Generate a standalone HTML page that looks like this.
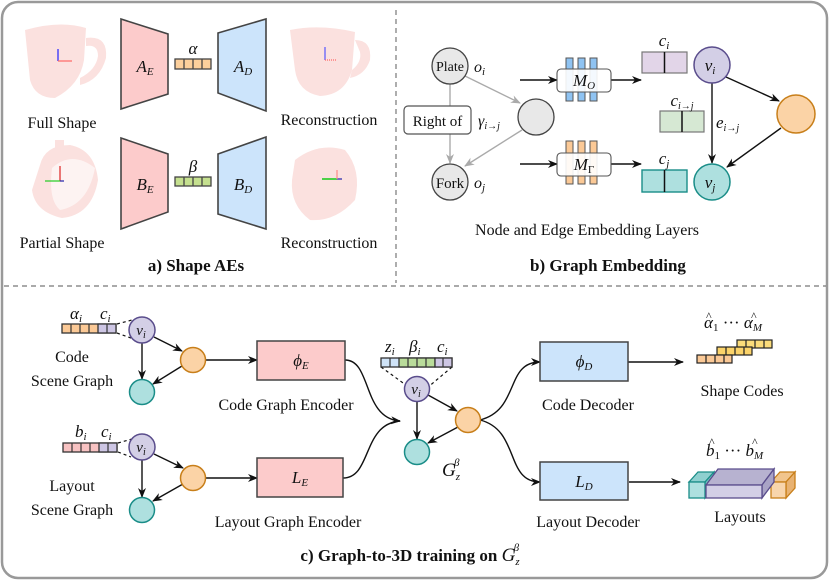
<!DOCTYPE html>
<html><head><meta charset="utf-8"><style>
html,body{margin:0;padding:0;background:#fff;}
svg{display:block;font-family:"Liberation Serif","Times New Roman",serif;}
svg text{font-family:"Liberation Serif","Times New Roman",serif;fill:#111;}
.m{font-style:italic;}
.b{font-weight:bold;}
</style></head><body>
<svg width="830" height="581" viewBox="0 0 830 581" xmlns="http://www.w3.org/2000/svg" font-family="Liberation Serif, serif">
<defs>
<marker id="ar" markerWidth="10" markerHeight="10" refX="9" refY="5" orient="auto" markerUnits="userSpaceOnUse"><path d="M0,1 L10,5 L0,9 L3,5 z" fill="#111"/></marker>
<marker id="ag" markerWidth="10" markerHeight="10" refX="9" refY="5" orient="auto" markerUnits="userSpaceOnUse"><path d="M0,1 L10,5 L0,9 L3,5 z" fill="#aaa"/></marker>
</defs>
<rect x="2" y="2" width="825" height="576" rx="16" fill="#fff" stroke="#999" stroke-width="2.5"/>
<line x1="396" y1="10" x2="396" y2="283" stroke="#777" stroke-dasharray="5,4" stroke-width="1.2"/>
<line x1="4" y1="286" x2="826" y2="286" stroke="#777" stroke-dasharray="5,4" stroke-width="1.2"/>

<g fill="#fbe1df">
<path d="M25,30 Q60,20 86,28 L84,60 Q80,85 55,98 Q35,98 30,80 Z"/>
<path d="M86,38 Q108,35 106,58 Q100,80 80,85 L80,78 Q96,70 98,56 Q98,44 86,46 Z"/>
<path d="M290,30 Q320,24 355,32 L352,70 Q345,95 320,96 Q298,92 295,70 Z"/>
<path d="M355,40 Q372,40 370,60 Q365,75 350,78 L352,70 Q362,62 360,52 Z"/>
<path d="M40,165 Q45,145 70,145 Q95,150 98,180 Q92,215 62,218 Q35,212 32,190 Z"/>
<path d="M55,140 L64,140 L64,152 L55,152 Z"/>
<path d="M295,160 Q318,142 345,150 Q362,170 355,200 Q335,222 310,220 Q290,205 292,180 Z"/>
</g>
<path d="M52,168 Q72,150 95,168 Q88,205 60,210 Q48,200 52,168Z" fill="#fff" opacity="0.6"/>
<g stroke-width="1.2">
<line x1="58" y1="61" x2="58" y2="49" stroke="#22f"/><line x1="58" y1="61" x2="72" y2="61" stroke="#f66"/>
<line x1="325" y1="60" x2="325" y2="47" stroke="#55f"/><line x1="325" y1="60" x2="336" y2="60" stroke="#f66" stroke-dasharray="1,1"/>
<line x1="60" y1="181" x2="60" y2="166" stroke="#d22"/><line x1="60" y1="181" x2="45" y2="181" stroke="#2c2"/><line x1="60" y1="181" x2="64" y2="181" stroke="#22a"/>
<line x1="337" y1="179" x2="322" y2="179" stroke="#2c2" stroke-width="1.6"/><line x1="337" y1="179" x2="342" y2="179" stroke="#22a"/><line x1="337" y1="179" x2="337" y2="170" stroke="#f88"/>
</g>
<g stroke="#444" stroke-width="1.6">
<polygon points="121,19 168,34 168,94 121,109" fill="#fccbcb"/>
<polygon points="218,33 266,19 266,111 218,93" fill="#cce4fb"/>
<polygon points="121,138 168,154 168,212 121,229" fill="#fccbcb"/>
<polygon points="218,154 266,137 266,229 218,214" fill="#cce4fb"/>
</g>
<g stroke="#444" stroke-width="1.3">
<rect x="175" y="59" width="36" height="10" fill="#fbcf9c"/>
<line x1="184" y1="59" x2="184" y2="69"/><line x1="193" y1="59" x2="193" y2="69"/><line x1="202" y1="59" x2="202" y2="69"/>
<rect x="175" y="177" width="36" height="9" fill="#c5e08f"/>
<line x1="184" y1="177" x2="184" y2="186"/><line x1="193" y1="177" x2="193" y2="186"/><line x1="202" y1="177" x2="202" y2="186"/>
</g>
<text x="193" y="54" font-size="17" text-anchor="middle" class="m">α</text>
<text x="193" y="172" font-size="17" text-anchor="middle" class="m">β</text>
<text x="145" y="72" font-size="17" text-anchor="middle" class="m">A<tspan font-size="11" dy="3">E</tspan></text>
<text x="243" y="72" font-size="17" text-anchor="middle" class="m">A<tspan font-size="11" dy="3">D</tspan></text>
<text x="145" y="190" font-size="17" text-anchor="middle" class="m">B<tspan font-size="11" dy="3">E</tspan></text>
<text x="243" y="190" font-size="17" text-anchor="middle" class="m">B<tspan font-size="11" dy="3">D</tspan></text>
<text x="62" y="128" font-size="16" text-anchor="middle">Full Shape</text>
<text x="329" y="125" font-size="16" text-anchor="middle">Reconstruction</text>
<text x="62" y="248" font-size="16" text-anchor="middle">Partial Shape</text>
<text x="329" y="248" font-size="16" text-anchor="middle">Reconstruction</text>
<text x="196" y="271" font-size="17" text-anchor="middle" class="b">a) Shape AEs</text>

<g stroke="#aaa" stroke-width="1.4" fill="none">
<line x1="450" y1="84" x2="450" y2="163" marker-end="url(#ag)"/>
<line x1="465" y1="76" x2="520" y2="103" marker-end="url(#ag)"/>
<line x1="522" y1="130" x2="465" y2="166" marker-end="url(#ag)"/>
</g>
<rect x="404" y="106" width="67" height="28" rx="4" fill="#fff" stroke="#555" stroke-width="1.2"/>
<text x="437.5" y="126" font-size="15" text-anchor="middle">Right of</text>
<circle cx="450" cy="66" r="18" fill="#e8e8e8" stroke="#444" stroke-width="1.3"/>
<text x="450" y="71" font-size="14" text-anchor="middle">Plate</text>
<circle cx="450" cy="182" r="18" fill="#e8e8e8" stroke="#444" stroke-width="1.3"/>
<text x="450" y="188" font-size="15" text-anchor="middle">Fork</text>
<circle cx="536" cy="117" r="18" fill="#e8e8e8" stroke="#444" stroke-width="1.3"/>
<text x="474" y="72" font-size="16" class="m">o<tspan font-size="11" dy="3">i</tspan></text>
<text x="478" y="126" font-size="16" class="m">γ<tspan font-size="10" dy="3">i→j</tspan></text>
<text x="474" y="188" font-size="16" class="m">o<tspan font-size="11" dy="3">j</tspan></text>
<g stroke="#111" stroke-width="1.5" fill="none">
<line x1="520" y1="80" x2="557" y2="80" marker-end="url(#ar)"/>
<line x1="611" y1="80" x2="641" y2="80" marker-end="url(#ar)"/>
<line x1="520" y1="164" x2="557" y2="164" marker-end="url(#ar)"/>
<line x1="611" y1="164" x2="641" y2="164" marker-end="url(#ar)"/>
</g>
<g stroke="#555" stroke-width="1">
<rect x="566" y="58" width="7" height="43" fill="#8fc3f2"/><rect x="578" y="58" width="7" height="43" fill="#8fc3f2"/><rect x="590" y="58" width="7" height="43" fill="#8fc3f2"/>
<rect x="566" y="141" width="7" height="43" fill="#fbc996"/><rect x="578" y="141" width="7" height="43" fill="#fbc996"/><rect x="590" y="141" width="7" height="43" fill="#fbc996"/>
</g>
<rect x="557" y="69" width="54" height="23" rx="4" fill="#fff" fill-opacity="0.9" stroke="#555" stroke-width="1.1"/>
<rect x="557" y="153" width="54" height="23" rx="4" fill="#fff" fill-opacity="0.9" stroke="#555" stroke-width="1.1"/>
<text x="584" y="86" font-size="17" text-anchor="middle" class="m">M<tspan font-size="11" dy="3">O</tspan></text>
<text x="584" y="170" font-size="17" text-anchor="middle" class="m">M<tspan font-size="11" dy="3" font-style="normal">Γ</tspan></text>
<rect x="642" y="52" width="45" height="21" fill="#e2d5e8" stroke="#777" stroke-width="1.2"/><line x1="664.5" y1="52" x2="664.5" y2="73" stroke="#111" stroke-width="1.5"/>
<rect x="660" y="111" width="44" height="21" fill="#d6e8d3" stroke="#777" stroke-width="1.2"/><line x1="682" y1="111" x2="682" y2="132" stroke="#111" stroke-width="1.5"/>
<rect x="642" y="170" width="45" height="22" fill="#aee0df" stroke="#1a8d88" stroke-width="1.4"/><line x1="664.5" y1="170" x2="664.5" y2="192" stroke="#111" stroke-width="1.5"/>
<text x="664" y="46" font-size="17" text-anchor="middle" class="m">c<tspan font-size="11" dy="3">i</tspan></text>
<text x="682" y="106" font-size="17" text-anchor="middle" class="m">c<tspan font-size="10" dy="3">i→j</tspan></text>
<text x="664" y="164" font-size="17" text-anchor="middle" class="m">c<tspan font-size="11" dy="3">j</tspan></text>
<text x="716" y="128" font-size="17" class="m">e<tspan font-size="10" dy="3">i→j</tspan></text>
<g stroke="#111" stroke-width="1.4">
<line x1="712" y1="83" x2="712" y2="163" marker-end="url(#ar)"/>
<line x1="726" y1="77" x2="779" y2="101" marker-end="url(#ar)"/>
<line x1="781" y1="128" x2="727" y2="167" marker-end="url(#ar)"/>
</g>
<circle cx="712" cy="65" r="18" fill="#d3cfe6" stroke="#5a4d8c" stroke-width="1.5"/>
<text x="710" y="71" font-size="17" text-anchor="middle" class="m">v<tspan font-size="11" dy="3">i</tspan></text>
<circle cx="712" cy="182" r="18" fill="#aee0df" stroke="#1a8d88" stroke-width="1.5"/>
<text x="710" y="188" font-size="17" text-anchor="middle" class="m">v<tspan font-size="11" dy="3">j</tspan></text>
<circle cx="796" cy="114" r="19" fill="#fbd3a6" stroke="#c87f1a" stroke-width="1.5"/>
<text x="587" y="235" font-size="16" text-anchor="middle">Node and Edge Embedding Layers</text>
<text x="608" y="271" font-size="17" text-anchor="middle" class="b">b) Graph Embedding</text>

<rect x="62" y="324" width="54" height="9" fill="#fbc996" stroke="#333" stroke-width="1.3"/>
<rect x="98" y="324" width="18" height="9" fill="#cdc6e4" stroke="#333" stroke-width="1.3"/>
<g stroke="#333" stroke-width="1.2"><line x1="71" y1="324" x2="71" y2="333"/><line x1="80" y1="324" x2="80" y2="333"/><line x1="89" y1="324" x2="89" y2="333"/><line x1="107" y1="324" x2="107" y2="333"/></g>
<text x="70" y="319" font-size="17" class="m">α<tspan font-size="11" dy="3">i</tspan></text>
<text x="100" y="319" font-size="17" class="m">c<tspan font-size="11" dy="3">i</tspan></text>
<rect x="63" y="443" width="54" height="9" fill="#f7c2c2" stroke="#333" stroke-width="1.3"/>
<rect x="99" y="443" width="18" height="9" fill="#cdc6e4" stroke="#333" stroke-width="1.3"/>
<g stroke="#333" stroke-width="1.2"><line x1="72" y1="443" x2="72" y2="452"/><line x1="81" y1="443" x2="81" y2="452"/><line x1="90" y1="443" x2="90" y2="452"/><line x1="108" y1="443" x2="108" y2="452"/></g>
<text x="75" y="437" font-size="17" class="m">b<tspan font-size="11" dy="3">i</tspan></text>
<text x="101" y="437" font-size="17" class="m">c<tspan font-size="11" dy="3">i</tspan></text>
<g stroke="#111" stroke-width="1.2" stroke-dasharray="3,3" fill="none">
<line x1="117" y1="324" x2="132" y2="320"/><line x1="117" y1="333" x2="131" y2="338"/>
<line x1="118" y1="443" x2="132" y2="439"/><line x1="118" y1="452" x2="131" y2="457"/>
<line x1="381" y1="367" x2="410" y2="388"/><line x1="452" y1="367" x2="427" y2="388"/>
</g>
<g stroke="#111" stroke-width="1.4" fill="none">
<line x1="142" y1="343" x2="142" y2="379" marker-end="url(#ar)"/>
<line x1="154" y1="337" x2="182" y2="351" marker-end="url(#ar)"/>
<line x1="182" y1="366" x2="153" y2="384" marker-end="url(#ar)"/>
<line x1="205" y1="360" x2="257" y2="360" marker-end="url(#ar)"/>
<line x1="142" y1="460" x2="142" y2="497" marker-end="url(#ar)"/>
<line x1="154" y1="454" x2="183" y2="468" marker-end="url(#ar)"/>
<line x1="183" y1="484" x2="153" y2="501" marker-end="url(#ar)"/>
<line x1="205" y1="478" x2="257" y2="478" marker-end="url(#ar)"/>
<path d="M345,360 C372,360 362,418 400,421" marker-end="url(#ar)"/>
<path d="M343,478 C372,478 362,424 400,421"/>
<line x1="417" y1="401" x2="417" y2="439" marker-end="url(#ar)"/>
<line x1="428" y1="395" x2="457" y2="411" marker-end="url(#ar)"/>
<line x1="458" y1="427" x2="428" y2="443" marker-end="url(#ar)"/>
<path d="M480,420 C520,410 505,362 540,362" marker-end="url(#ar)"/>
<path d="M480,420 C520,430 505,482 540,482" marker-end="url(#ar)"/>
<line x1="628" y1="362" x2="683" y2="362" marker-end="url(#ar)"/>
<line x1="629" y1="482" x2="680" y2="482" marker-end="url(#ar)"/>
</g>
<circle cx="142" cy="330" r="13" fill="#d3cfe6" stroke="#5a4d8c" stroke-width="1.5"/>
<text x="141" y="335" font-size="15" text-anchor="middle" class="m">v<tspan font-size="10" dy="3">i</tspan></text>
<circle cx="193" cy="360" r="12.5" fill="#fbd3a6" stroke="#c87f1a" stroke-width="1.5"/>
<circle cx="142" cy="392" r="12.5" fill="#aee0df" stroke="#1a8d88" stroke-width="1.5"/>
<circle cx="142" cy="447" r="13" fill="#d3cfe6" stroke="#5a4d8c" stroke-width="1.5"/>
<text x="141" y="452" font-size="15" text-anchor="middle" class="m">v<tspan font-size="10" dy="3">i</tspan></text>
<circle cx="193" cy="478" r="12.5" fill="#fbd3a6" stroke="#c87f1a" stroke-width="1.5"/>
<circle cx="142" cy="510" r="12.5" fill="#aee0df" stroke="#1a8d88" stroke-width="1.5"/>
<text x="72" y="362" font-size="16" text-anchor="middle">Code</text>
<text x="72" y="386" font-size="16" text-anchor="middle">Scene Graph</text>
<text x="72" y="491" font-size="16" text-anchor="middle">Layout</text>
<text x="72" y="515" font-size="16" text-anchor="middle">Scene Graph</text>
<rect x="257" y="341" width="88" height="39" fill="#fccbcb" stroke="#444" stroke-width="1.5"/>
<text x="301" y="366" font-size="17" text-anchor="middle" class="m">ϕ<tspan font-size="11" dy="3">E</tspan></text>
<rect x="257" y="458" width="86" height="39" fill="#fccbcb" stroke="#444" stroke-width="1.5"/>
<text x="300" y="483" font-size="17" text-anchor="middle" class="m">L<tspan font-size="11" dy="3">E</tspan></text>
<text x="286" y="410" font-size="16" text-anchor="middle">Code Graph Encoder</text>
<text x="288" y="527" font-size="16" text-anchor="middle">Layout Graph Encoder</text>
<rect x="381" y="358" width="71" height="9" fill="#cfe3f7" stroke="#333" stroke-width="1.3"/>
<rect x="399" y="358" width="36" height="9" fill="#b9dc9a" stroke="#333" stroke-width="1.3"/>
<rect x="435" y="358" width="17" height="9" fill="#cdc6e4" stroke="#333" stroke-width="1.3"/>
<g stroke="#333" stroke-width="1.2"><line x1="390" y1="358" x2="390" y2="367"/><line x1="408" y1="358" x2="408" y2="367"/><line x1="417" y1="358" x2="417" y2="367"/><line x1="426" y1="358" x2="426" y2="367"/><line x1="443" y1="358" x2="443" y2="367"/></g>
<text x="385" y="352" font-size="17" class="m">z<tspan font-size="11" dy="3">i</tspan></text>
<text x="409" y="352" font-size="17" class="m">β<tspan font-size="11" dy="3">i</tspan></text>
<text x="437" y="352" font-size="17" class="m">c<tspan font-size="11" dy="3">i</tspan></text>
<circle cx="417" cy="389" r="12.5" fill="#d3cfe6" stroke="#5a4d8c" stroke-width="1.5"/>
<text x="416" y="394" font-size="15" text-anchor="middle" class="m">v<tspan font-size="10" dy="3">i</tspan></text>
<circle cx="468" cy="420" r="12.5" fill="#fbd3a6" stroke="#c87f1a" stroke-width="1.5"/>
<circle cx="417" cy="452" r="12.5" fill="#aee0df" stroke="#1a8d88" stroke-width="1.5"/>
<text x="442" y="476" font-size="19" class="m">G<tspan font-size="11" dy="4">z</tspan><tspan font-size="11" dx="-6" dy="-14">β</tspan></text>
<rect x="540" y="342" width="88" height="39" fill="#cce4fb" stroke="#444" stroke-width="1.5"/>
<text x="584" y="367" font-size="17" text-anchor="middle" class="m">ϕ<tspan font-size="11" dy="3">D</tspan></text>
<rect x="540" y="462" width="88" height="38" fill="#cce4fb" stroke="#444" stroke-width="1.5"/>
<text x="584" y="487" font-size="17" text-anchor="middle" class="m">L<tspan font-size="11" dy="3">D</tspan></text>
<text x="588" y="410" font-size="16" text-anchor="middle">Code Decoder</text>
<text x="588" y="527" font-size="16" text-anchor="middle">Layout Decoder</text>
<g stroke="#222" stroke-width="1.2">
<rect x="737" y="340" width="35" height="8" fill="#fbdc7a"/><line x1="746" y1="340" x2="746" y2="348"/><line x1="755" y1="340" x2="755" y2="348"/><line x1="764" y1="340" x2="764" y2="348"/>
<rect x="717" y="347" width="35" height="8" fill="#fbd36a"/><line x1="726" y1="347" x2="726" y2="355"/><line x1="735" y1="347" x2="735" y2="355"/><line x1="744" y1="347" x2="744" y2="355"/>
<rect x="697" y="355" width="35" height="8" fill="#fbc996"/><line x1="706" y1="355" x2="706" y2="363"/><line x1="715" y1="355" x2="715" y2="363"/><line x1="724" y1="355" x2="724" y2="363"/>
</g>
<text x="704" y="328" font-size="17" class="m">α<tspan font-size="11" dy="3" font-style="normal">1</tspan><tspan dy="-3" font-style="normal"> ··· </tspan>α<tspan font-size="11" dy="3">M</tspan></text>
<text x="706" y="320" font-size="12">^</text><text x="751" y="320" font-size="12">^</text>
<text x="742" y="396" font-size="16" text-anchor="middle">Shape Codes</text>
<text x="706" y="456" font-size="17" class="m">b<tspan font-size="11" dy="3" font-style="normal">1</tspan><tspan dy="-3" font-style="normal"> ··· </tspan>b<tspan font-size="11" dy="3">M</tspan></text>
<text x="709" y="446" font-size="12">^</text><text x="752" y="446" font-size="12">^</text>
<g stroke-width="1.3">
<polygon points="689,482 698,472 714,472 705,482" fill="#8fd0cf" stroke="#1a8d88"/>
<polygon points="705,482 714,472 714,488 705,498" fill="#6fc0bf" stroke="#1a8d88"/>
<rect x="689" y="482" width="16" height="16" fill="#aee0df" stroke="#1a8d88"/>
<polygon points="771,482 780,472 795,472 786,482" fill="#f1c58d" stroke="#c87f1a"/>
<polygon points="786,482 795,472 795,488 786,498" fill="#e8b272" stroke="#c87f1a"/>
<rect x="771" y="482" width="15" height="16" fill="#f8d5ac" stroke="#c87f1a"/>
<polygon points="706,485 718,469 774,469 762,485" fill="#b7b2d0" stroke="#5a4d8c"/>
<polygon points="762,485 774,469 774,482 762,498" fill="#a9a3c6" stroke="#5a4d8c"/>
<rect x="706" y="485" width="56" height="13" fill="#d3cfe6" stroke="#5a4d8c"/>
</g>
<text x="740" y="522" font-size="16" text-anchor="middle">Layouts</text>
<text x="410" y="561" font-size="17" text-anchor="middle" class="b">c) Graph-to-3D training on <tspan font-weight="normal" class="m" font-size="19">G</tspan><tspan font-size="11" dy="4" class="m" font-weight="normal">z</tspan><tspan font-size="11" dx="-6" dy="-14" class="m" font-weight="normal">β</tspan></text>
</svg>
</body></html>
